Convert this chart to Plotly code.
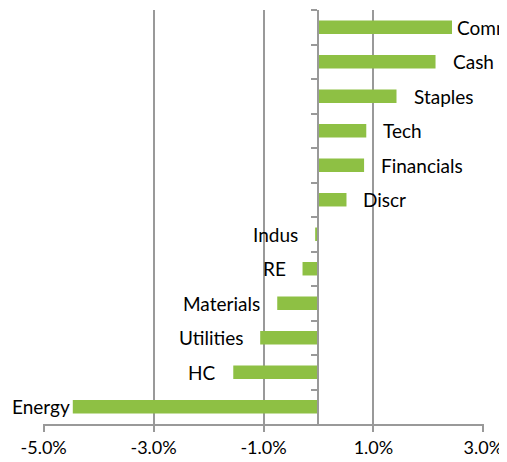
import plotly.graph_objects as go

categories = ["Comm", "Cash", "Staples", "Tech", "Financials", "Discr",
              "Indus", "RE", "Materials", "Utilities", "HC", "Energy"]
values = [2.43, 2.13, 1.42, 0.87, 0.83, 0.51,
          -0.06, -0.29, -0.75, -1.06, -1.55, -4.47]
tick_vals = [-5, -3, -1, 1, 3]
tick_text = ["-5.0%", "-3.0%", "-1.0%", "1.0%", "3.0%"]

FONT = "Lato"
GRID = "#999999"

fig = go.Figure()
fig.add_trace(go.Bar(
    y=categories, x=values, orientation="h",
    marker=dict(color="#8EC044", line=dict(width=0)),
    width=0.39, hoverinfo="skip",
))

annotations = []
for c, v in zip(categories, values):
    if v >= 0:
        shift = 3 if c == "Comm" else 15
        annotations.append(dict(x=v, y=c, xref="x", yref="y", text=c, showarrow=False,
                                xanchor="left", xshift=shift,
                                font=dict(family=FONT, size=19, color="#000")))
    else:
        shift = -1 if c == "Energy" else -15
        annotations.append(dict(x=v, y=c, xref="x", yref="y", text=c, showarrow=False,
                                xanchor="right", xshift=shift,
                                font=dict(family=FONT, size=19, color="#000")))

# page body has an 8px default margin, so the figure is offset by (8, 8)
fig.update_layout(
    width=507, height=462,
    margin=dict(l=35, r=31, t=2, b=46, autoexpand=False),
    paper_bgcolor="white", plot_bgcolor="white",
    showlegend=False,
    annotations=annotations,
    xaxis=dict(range=[-5.012, 3.012], tickmode="array", tickvals=tick_vals, ticktext=tick_text,
               showgrid=True, gridcolor=GRID, gridwidth=2,
               showline=True, linecolor=GRID, linewidth=2,
               ticks="outside", ticklen=6, tickwidth=2, tickcolor=GRID,
               zeroline=False, automargin=False,
               tickfont=dict(family=FONT, size=18, color="#000")),
    yaxis=dict(type="category", autorange="reversed",
               showticklabels=False, showgrid=False, zeroline=False,
               showline=True, linecolor=GRID, linewidth=2,
               anchor="free", position=5.012 / 8.024, automargin=False,
               ticks="outside", tickson="boundaries", ticklen=6, tickwidth=2, tickcolor=GRID),
)

fig.write_html("out.html")
